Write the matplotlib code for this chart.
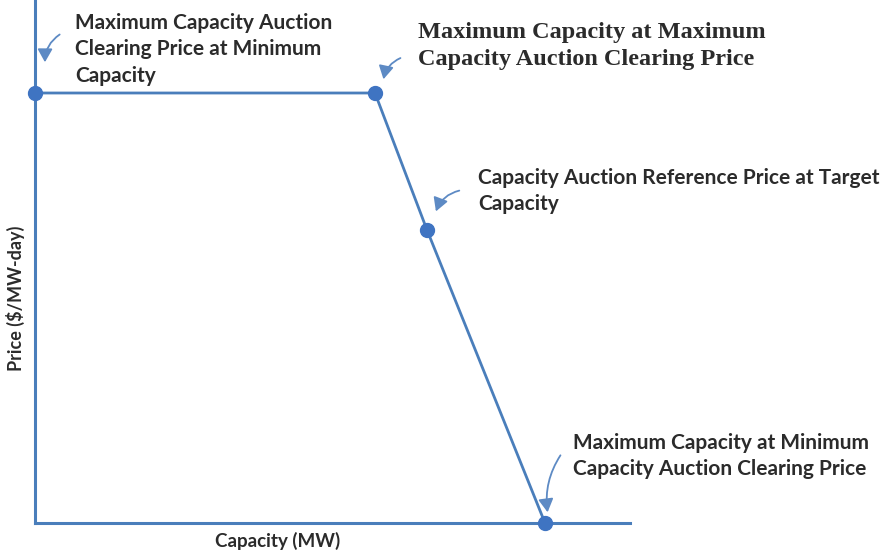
import matplotlib
matplotlib.use("Agg")
import matplotlib.pyplot as plt

# Data (arbitrary units)
capacity = [0, 340, 392, 510]
price = [430, 430, 293, 0]
labels = [
    "Maximum Capacity Auction\nClearing Price at Minimum\nCapacity",
    "Maximum Capacity at Maximum\nCapacity Auction Clearing Price",
    "Capacity Auction Reference Price at Target\nCapacity",
    "Maximum Capacity at Minimum\nCapacity Auction Clearing Price",
]
x_label = "Capacity (MW)"
y_label = "Price ($/MW-day)"

W, H = 882, 554
fig = plt.figure(figsize=(W / 100, H / 100), dpi=100)
x0, y0_px, x1 = 35, 523, 630
ax = fig.add_axes([x0 / W, (H - y0_px) / H, (x1 - x0) / W, y0_px / H])
ax.set_xlim(0, x1 - x0)
ax.set_ylim(0, y0_px)

blue = "#4a7ebb"
mk = "#3f74c2"
txt = "#2b2b2b"

for s in ["top", "right"]:
    ax.spines[s].set_visible(False)
for s in ["left", "bottom"]:
    ax.spines[s].set_color(blue)
    ax.spines[s].set_linewidth(2.2)
ax.set_xticks([])
ax.set_yticks([])

ax.plot(capacity, price, color=blue, lw=2, marker="o", markersize=10,
        markerfacecolor=mk, markeredgecolor=mk, clip_on=False, zorder=5)

def P(px, py):
    return (px - x0, y0_px - py)

sans = ["Lato", "DejaVu Sans"]
ax.text(*P(75, 13), labels[0], fontsize=15, family=sans, weight="bold",
        color=txt, va="top", ha="left", linespacing=1.4)
ax.text(*P(418, 22), labels[1], fontsize=17.5, family="Liberation Serif",
        weight="bold", color=txt, va="top", ha="left", linespacing=1.38)
ax.text(*P(478, 168), labels[2], fontsize=15, family=sans, weight="bold",
        color=txt, va="top", ha="left", linespacing=1.4)
ax.text(*P(573, 433), labels[3], fontsize=15, family=sans, weight="bold",
        color=txt, va="top", ha="left", linespacing=1.4)

arrows = [((62, 33), (45, 65), 0.3),
          ((403, 57), (383, 82), 0.3),
          ((462, 190), (435, 214), 0.3),
          ((562, 453), (548, 515), 0.2)]
for (sx, sy), (tx, ty), rad in arrows:
    ax.annotate("", xy=P(tx, ty), xytext=P(sx, sy),
                arrowprops=dict(arrowstyle="-|>,head_length=0.8,head_width=0.45",
                                color="#5d8ac4", lw=1.3,
                                connectionstyle=f"arc3,rad={rad}"),
                annotation_clip=False)

fig.text(278 / W, (H - 541) / H, x_label, ha="center", va="center",
         fontsize=13.5, family=sans, weight="bold", color=txt)
fig.text(15 / W, (H - 298) / H, y_label, ha="center", va="center",
         rotation=90, fontsize=13, family=sans, weight="bold", color=txt)

fig.savefig("out.png", dpi=100, facecolor="white")
